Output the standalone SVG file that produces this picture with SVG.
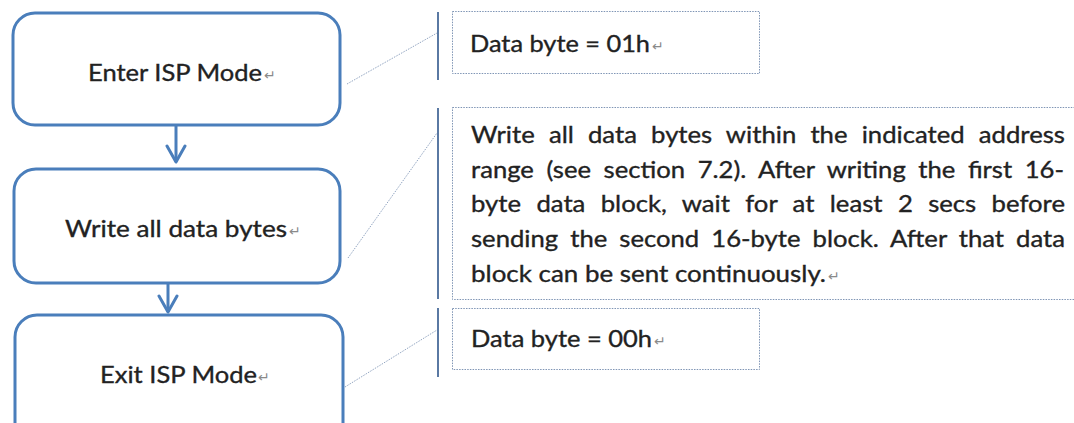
<svg xmlns="http://www.w3.org/2000/svg" width="1074" height="423" viewBox="0 0 1074 423">
<defs>
<style>
.node rect{fill:#ffffff;stroke:#4A7EBB;stroke-width:3}
.lbl{font-family:Lato,"Liberation Sans",sans-serif;font-size:24px;fill:#222222;stroke:#222222;stroke-width:0.35}
.pm{font-family:"DejaVu Sans",sans-serif;font-size:14px;fill:#8a8a8a}
.note rect{fill:#ffffff;stroke:#7F95B5;stroke-width:1;stroke-dasharray:1.5 1.2}
.bracket{stroke:#5A79A3;stroke-width:2}
.leader{stroke:#93A6C2;stroke-width:1;stroke-dasharray:1.5 1.2;fill:none}
.arrow{stroke:#4A7EBB;stroke-width:3;fill:none}
</style>
<marker id="chev" viewBox="-18 -11 20 22" refX="0" refY="0" markerWidth="20" markerHeight="22" markerUnits="userSpaceOnUse" orient="auto">
<path d="M-16,-9 L0,0 L-16,9" fill="none" stroke="#4A7EBB" stroke-width="3" stroke-linecap="round" stroke-linejoin="round"/>
</marker>
</defs>
<rect width="1074" height="423" fill="#ffffff"/>

<g id="connectors">
<line class="arrow" x1="176" y1="126" x2="176" y2="162" marker-end="url(#chev)"/>
<line class="arrow" x1="168" y1="284" x2="168" y2="312" marker-end="url(#chev)"/>
<line class="leader" x1="347" y1="84" x2="437" y2="33"/>
<line class="leader" x1="348" y1="258" x2="437" y2="133"/>
<line class="leader" x1="345" y1="387" x2="437" y2="330"/>
<line class="bracket" x1="438" y1="12" x2="438" y2="80"/>
<line class="bracket" x1="438" y1="108" x2="438" y2="299"/>
<line class="bracket" x1="438" y1="308" x2="438" y2="377"/>
</g>

<g id="enter-isp" class="node">
<rect x="13" y="13" width="327" height="112" rx="22" ry="22"/>
<text class="lbl" x="88" y="81" textLength="174" lengthAdjust="spacingAndGlyphs">Enter ISP Mode</text>
<text class="pm" x="264" y="80">↵</text>
</g>

<g id="write-bytes" class="node">
<rect x="14" y="169" width="326" height="114" rx="22" ry="22"/>
<text class="lbl" x="65" y="237" textLength="222" lengthAdjust="spacingAndGlyphs">Write all data bytes</text>
<text class="pm" x="289" y="236">↵</text>
</g>

<g id="exit-isp" class="node">
<rect x="15" y="315" width="328" height="130" rx="22" ry="22"/>
<text class="lbl" x="100" y="383" textLength="157" lengthAdjust="spacingAndGlyphs">Exit ISP Mode</text>
<text class="pm" x="258" y="382">↵</text>
</g>

<g id="note-enter" class="note">
<rect x="452.5" y="11.5" width="307" height="62"/>
<text class="lbl" x="470" y="52" textLength="180" lengthAdjust="spacingAndGlyphs">Data byte = 01h</text>
<text class="pm" x="652" y="51">↵</text>
</g>

<g id="note-write" class="note">
<rect x="452.5" y="107.5" width="640" height="192"/>
<text class="lbl" x="471" y="143" word-spacing="7.1" textLength="594" lengthAdjust="spacingAndGlyphs">Write all data bytes within the indicated address</text>
<text class="lbl" x="471" y="178" word-spacing="5.6" textLength="593" lengthAdjust="spacingAndGlyphs">range (see section 7.2). After writing the first 16-</text>
<text class="lbl" x="471" y="212" word-spacing="8.2" textLength="594" lengthAdjust="spacingAndGlyphs">byte data block, wait for at least 2 secs before</text>
<text class="lbl" x="471" y="247" word-spacing="5.1" textLength="594" lengthAdjust="spacingAndGlyphs">sending the second 16-byte block. After that data</text>
<text class="lbl" x="471" y="282" textLength="355" lengthAdjust="spacingAndGlyphs">block can be sent continuously.</text>
<text class="pm" x="828" y="281">↵</text>
</g>

<g id="note-exit" class="note">
<rect x="452.5" y="308.5" width="307" height="61"/>
<text class="lbl" x="471" y="347" textLength="181" lengthAdjust="spacingAndGlyphs">Data byte = 00h</text>
<text class="pm" x="654" y="346">↵</text>
</g>
</svg>
